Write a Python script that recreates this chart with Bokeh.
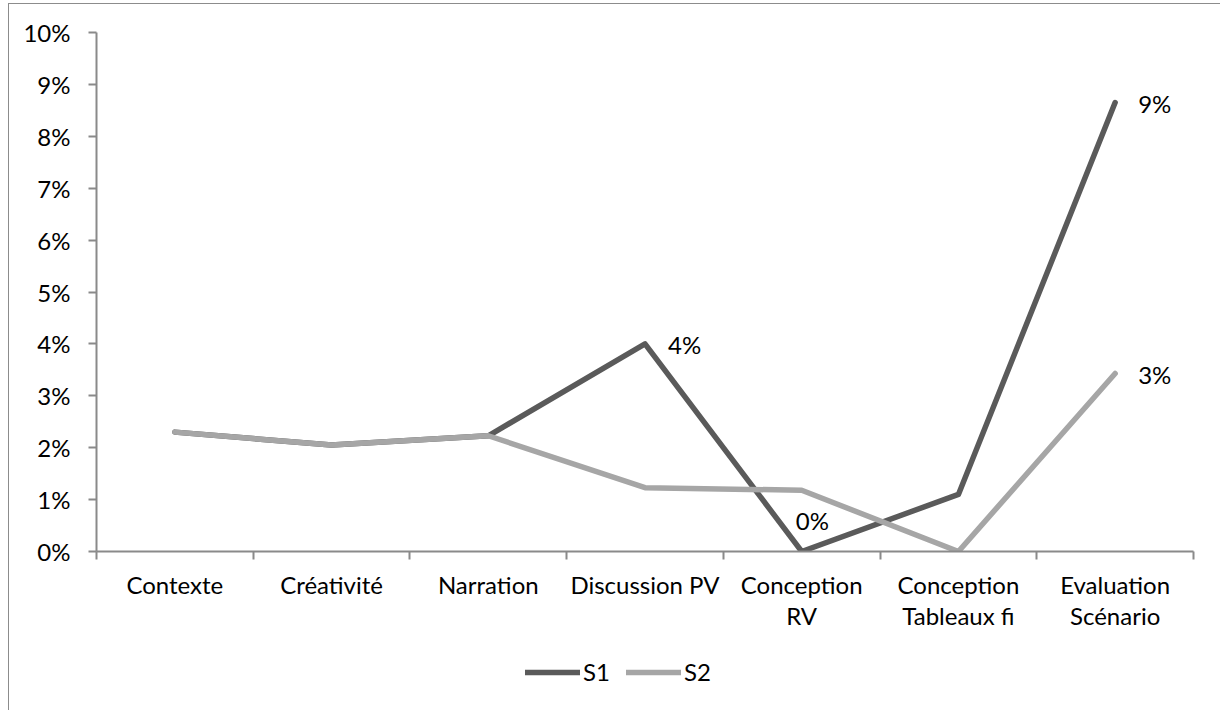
from bokeh.plotting import figure
from bokeh.layouts import column
from bokeh.models import (FactorRange, Range1d, LinearAxis, CategoricalAxis, FixedTicker,
                          NumeralTickFormatter, Legend, LegendItem, ColumnDataSource,
                          CustomJSTickFormatter)
from bokeh.embed import file_html
from bokeh.resources import INLINE
from bokeh.core.properties import value

categories = ["Contexte", "Créativité", "Narration", "Discussion PV",
              "Conception\nRV", "Conception\nTableaux fi", "Evaluation\nScénario"]
s1 = [0.0230, 0.0205, 0.0223, 0.0400, 0.0000, 0.0110, 0.0865]
s2 = [0.0230, 0.0205, 0.0223, 0.0123, 0.0118, 0.0000, 0.0343]
y_ticks = [0.0, 0.01, 0.02, 0.03, 0.04, 0.05, 0.06, 0.07, 0.08, 0.09, 0.10]
series_names = ["S1", "S2"]

# which points carry a data label: (series, category index)
labelled = [("S1", 3), ("S1", 4), ("S1", 6), ("S2", 6)]

FONT = "Lato"
AXIS_COLOR = "#8a8a8a"
COLORS = {"S1": "#5a5a5a", "S2": "#a6a6a6"}

p = figure(x_range=FactorRange(*categories), y_range=Range1d(0, 0.10),
           frame_width=1097, frame_height=519, output_backend="svg", toolbar_location=None,
           x_axis_location=None, y_axis_location=None,
           min_border_left=87, min_border_right=27, min_border_top=28, min_border_bottom=90)
p.grid.visible = False
p.outline_line_color = None
p.background_fill_color = "white"
p.border_fill_color = "white"

# tick marks at category boundaries (synthetic coordinates of the factor range)
edge_axis = LinearAxis(ticker=FixedTicker(ticks=list(range(len(categories) + 1)), minor_ticks=[]),
                       formatter=CustomJSTickFormatter(code="return ''"),
                       axis_line_color=AXIS_COLOR, axis_line_width=2,
                       major_tick_line_color=AXIS_COLOR, major_tick_line_width=2,
                       major_tick_out=8, major_tick_in=0,
                       minor_tick_line_color=None,
                       major_label_standoff=0, major_label_text_font_size="1px")
p.add_layout(edge_axis, "below")

label_axis = CategoricalAxis(axis_line_color=None, major_tick_line_color=None,
                             minor_tick_line_color=None,
                             major_label_text_font=FONT, major_label_text_font_size="24px",
                             major_label_text_color="#000000", major_label_text_line_height=1.08,
                             major_label_standoff=4)
p.add_layout(label_axis, "below")

yaxis = LinearAxis(ticker=FixedTicker(ticks=y_ticks, minor_ticks=[]),
                   formatter=NumeralTickFormatter(format="0%"),
                   axis_line_color=AXIS_COLOR, axis_line_width=2,
                   major_tick_line_color=AXIS_COLOR, major_tick_line_width=2,
                   major_tick_out=8, major_tick_in=0, minor_tick_line_color=None,
                   major_label_text_font=FONT, major_label_text_font_size="24px",
                   major_label_text_color="#000000", major_label_standoff=18)
p.add_layout(yaxis, "left")

src = ColumnDataSource(dict(cat=categories, S1=s1, S2=s2))
for name in series_names:
    p.line("cat", name, source=src, line_color=COLORS[name], line_width=5.5,
           line_cap="round", line_join="round")

# data labels
series = {"S1": s1, "S2": s2}
lx, ly, lt, xo, yo = [], [], [], [], []
for name, i in labelled:
    v = series[name][i]
    lx.append(categories[i])
    ly.append(v)
    lt.append(f"{v:.0%}")
    if v == 0:
        xo.append(-6); yo.append(-31)
    else:
        xo.append(23); yo.append(1)
lsrc = ColumnDataSource(dict(x=lx, y=ly, t=lt, xo=xo, yo=yo))
p.text("x", "y", text="t", source=lsrc, x_offset="xo", y_offset="yo",
       text_font=value(FONT), text_font_size="24px", text_color="#000000",
       text_align="left", text_baseline="middle")

# legend strip below the chart (proxy lines lie outside its visible range)
leg = figure(x_range=Range1d(0, 1), y_range=Range1d(0, 1), width=1211, height=70,
             output_backend="svg", toolbar_location=None,
             x_axis_location=None, y_axis_location=None,
             min_border_left=0, min_border_right=0, min_border_top=0, min_border_bottom=0)
leg.grid.visible = False
leg.outline_line_color = None
items = []
for name in series_names:
    r = leg.line(x=[-2, -1], y=[-2, -1], line_color=COLORS[name], line_width=5.5,
                 line_cap="round")
    items.append(LegendItem(label=name, renderers=[r]))
legend = Legend(items=items, orientation="horizontal", location=(429, 25),
                glyph_width=55, glyph_height=24, label_standoff=3, spacing=16,
                padding=0, margin=0, border_line_color=None, background_fill_alpha=0,
                label_text_font=FONT, label_text_font_size="24px", label_text_color="#000000",
                label_height=24)
leg.add_layout(legend, "center")

layout = column(p, leg, spacing=0)
layout.styles = {"margin-left": "8px", "margin-top": "3px",
                 "border-left": "1px solid #8c8c8c", "border-top": "1px solid #8c8c8c"}

open("out.html", "w").write(file_html(layout, INLINE))
